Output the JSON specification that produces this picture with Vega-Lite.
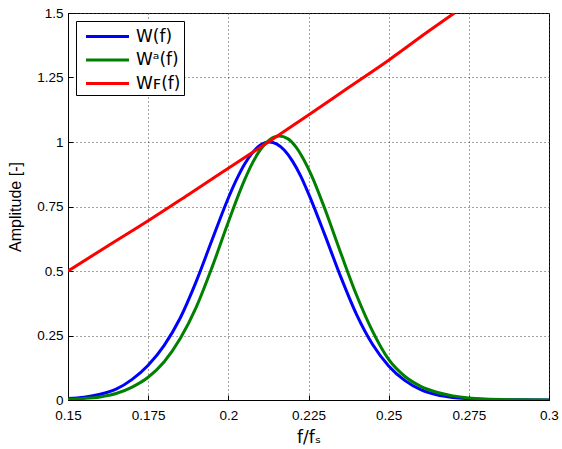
{
  "$schema": "https://vega.github.io/schema/vega-lite/v6.json",
  "width": 481,
  "height": 387,
  "autosize": "none",
  "padding": {"left": 68, "top": 13, "right": 13, "bottom": 49},
  "background": "white",
  "config": {
    "font": "Liberation Sans",
    "view": {"stroke": "black", "strokeWidth": 1}
  },
  "datasets": {
    "pts": [
      {"f": 0.15, "v": 0.006, "s": "W(f)"},
      {"f": 0.155, "v": 0.011, "s": "W(f)"},
      {"f": 0.16, "v": 0.022, "s": "W(f)"},
      {"f": 0.165, "v": 0.042, "s": "W(f)"},
      {"f": 0.17, "v": 0.08, "s": "W(f)"},
      {"f": 0.175, "v": 0.135, "s": "W(f)"},
      {"f": 0.18, "v": 0.212, "s": "W(f)"},
      {"f": 0.185, "v": 0.318, "s": "W(f)"},
      {"f": 0.19, "v": 0.46, "s": "W(f)"},
      {"f": 0.195, "v": 0.623, "s": "W(f)"},
      {"f": 0.2, "v": 0.783, "s": "W(f)"},
      {"f": 0.2025, "v": 0.853, "s": "W(f)"},
      {"f": 0.205, "v": 0.913, "s": "W(f)"},
      {"f": 0.2075, "v": 0.958, "s": "W(f)"},
      {"f": 0.21, "v": 0.988, "s": "W(f)"},
      {"f": 0.2128, "v": 1.0, "s": "W(f)"},
      {"f": 0.215, "v": 0.993, "s": "W(f)"},
      {"f": 0.2175, "v": 0.968, "s": "W(f)"},
      {"f": 0.22, "v": 0.926, "s": "W(f)"},
      {"f": 0.2225, "v": 0.87, "s": "W(f)"},
      {"f": 0.225, "v": 0.8, "s": "W(f)"},
      {"f": 0.23, "v": 0.643, "s": "W(f)"},
      {"f": 0.235, "v": 0.479, "s": "W(f)"},
      {"f": 0.24, "v": 0.331, "s": "W(f)"},
      {"f": 0.245, "v": 0.215, "s": "W(f)"},
      {"f": 0.25, "v": 0.132, "s": "W(f)"},
      {"f": 0.255, "v": 0.076, "s": "W(f)"},
      {"f": 0.26, "v": 0.04, "s": "W(f)"},
      {"f": 0.265, "v": 0.02, "s": "W(f)"},
      {"f": 0.27, "v": 0.01, "s": "W(f)"},
      {"f": 0.275, "v": 0.005, "s": "W(f)"},
      {"f": 0.28, "v": 0.002, "s": "W(f)"},
      {"f": 0.29, "v": 0.0005, "s": "W(f)"},
      {"f": 0.3, "v": 0.0, "s": "W(f)"},

      {"f": 0.15, "v": 0.003, "s": "Wᵃ(f)"},
      {"f": 0.155, "v": 0.006, "s": "Wᵃ(f)"},
      {"f": 0.16, "v": 0.012, "s": "Wᵃ(f)"},
      {"f": 0.165, "v": 0.025, "s": "Wᵃ(f)"},
      {"f": 0.17, "v": 0.05, "s": "Wᵃ(f)"},
      {"f": 0.175, "v": 0.088, "s": "Wᵃ(f)"},
      {"f": 0.18, "v": 0.148, "s": "Wᵃ(f)"},
      {"f": 0.185, "v": 0.238, "s": "Wᵃ(f)"},
      {"f": 0.19, "v": 0.36, "s": "Wᵃ(f)"},
      {"f": 0.195, "v": 0.517, "s": "Wᵃ(f)"},
      {"f": 0.2, "v": 0.69, "s": "Wᵃ(f)"},
      {"f": 0.205, "v": 0.851, "s": "Wᵃ(f)"},
      {"f": 0.2075, "v": 0.918, "s": "Wᵃ(f)"},
      {"f": 0.21, "v": 0.97, "s": "Wᵃ(f)"},
      {"f": 0.213, "v": 1.01, "s": "Wᵃ(f)"},
      {"f": 0.2158, "v": 1.023, "s": "Wᵃ(f)"},
      {"f": 0.2185, "v": 1.013, "s": "Wᵃ(f)"},
      {"f": 0.221, "v": 0.982, "s": "Wᵃ(f)"},
      {"f": 0.2235, "v": 0.932, "s": "Wᵃ(f)"},
      {"f": 0.226, "v": 0.869, "s": "Wᵃ(f)"},
      {"f": 0.23, "v": 0.744, "s": "Wᵃ(f)"},
      {"f": 0.235, "v": 0.572, "s": "Wᵃ(f)"},
      {"f": 0.24, "v": 0.406, "s": "Wᵃ(f)"},
      {"f": 0.245, "v": 0.266, "s": "Wᵃ(f)"},
      {"f": 0.25, "v": 0.157, "s": "Wᵃ(f)"},
      {"f": 0.255, "v": 0.092, "s": "Wᵃ(f)"},
      {"f": 0.26, "v": 0.053, "s": "Wᵃ(f)"},
      {"f": 0.265, "v": 0.03, "s": "Wᵃ(f)"},
      {"f": 0.27, "v": 0.016, "s": "Wᵃ(f)"},
      {"f": 0.275, "v": 0.008, "s": "Wᵃ(f)"},
      {"f": 0.28, "v": 0.004, "s": "Wᵃ(f)"},
      {"f": 0.29, "v": 0.001, "s": "Wᵃ(f)"},
      {"f": 0.3, "v": 0.0, "s": "Wᵃ(f)"},

      {"f": 0.15, "v": 0.5, "s": "Wꜰ(f)"},
      {"f": 0.1625, "v": 0.598, "s": "Wꜰ(f)"},
      {"f": 0.175, "v": 0.695, "s": "Wꜰ(f)"},
      {"f": 0.1875, "v": 0.796, "s": "Wꜰ(f)"},
      {"f": 0.2, "v": 0.898, "s": "Wꜰ(f)"},
      {"f": 0.2125, "v": 1.0, "s": "Wꜰ(f)"},
      {"f": 0.225, "v": 1.105, "s": "Wꜰ(f)"},
      {"f": 0.2375, "v": 1.211, "s": "Wꜰ(f)"},
      {"f": 0.25, "v": 1.317, "s": "Wꜰ(f)"},
      {"f": 0.2625, "v": 1.43, "s": "Wꜰ(f)"},
      {"f": 0.2705, "v": 1.5, "s": "Wꜰ(f)"}
    ]
  },
  "data": {"name": "pts"},
  "mark": {"type": "line", "strokeWidth": 3, "clip": true, "interpolate": "monotone"},
  "encoding": {
    "x": {
      "field": "f", "type": "quantitative",
      "scale": {"domain": [0.15, 0.3], "nice": false, "zero": false},
      "axis": {
        "values": [0.15, 0.175, 0.2, 0.225, 0.25, 0.275, 0.3],
        "format": ".3~f",
        "title": "f/fₛ",
        "titleFont": "DejaVu Sans",
        "titleFontSize": 17, "titleFontWeight": "normal", "titleColor": "black",
        "titlePadding": 8,
        "labelFontSize": 13.5, "labelColor": "black", "labelPadding": 13,
        "domainColor": "black", "tickColor": "black", "tickSize": -5,
        "labelFlush": false,
        "grid": true, "gridColor": "#444", "gridDash": [1, 3], "gridOpacity": 1
      }
    },
    "y": {
      "field": "v", "type": "quantitative",
      "scale": {"domain": [0, 1.5], "nice": false},
      "axis": {
        "values": [0, 0.25, 0.5, 0.75, 1, 1.25, 1.5],
        "format": ".2~f",
        "title": "Amplitude [-]",
        "titleFontSize": 16, "titleFontWeight": "normal", "titleColor": "black",
        "titlePadding": 13,
        "labelFontSize": 13.5, "labelColor": "black", "labelPadding": 10,
        "domainColor": "black", "tickColor": "black", "tickSize": -5,
        "labelFlush": false,
        "grid": true, "gridColor": "#444", "gridDash": [1, 3], "gridOpacity": 1
      }
    },
    "color": {
      "field": "s", "type": "nominal",
      "scale": {"domain": ["W(f)", "Wᵃ(f)", "Wꜰ(f)"], "range": ["#0000ff", "#008000", "#ff0000"]},
      "legend": {
        "title": null,
        "orient": "top-left",
        "offset": 8,
        "padding": 3,
        "fillColor": "white",
        "strokeColor": "black",
        "symbolType": "M-2,0L2,0",
        "symbolSize": 462,
        "symbolStrokeWidth": 3,
        "symbolOffset": 16,
        "labelOffset": 16,
        "labelFontSize": 17,
        "labelColor": "black",
        "labelFont": "DejaVu Sans",
        "labelExpr": "datum.label + '\u00a0\u00a0'",
        "rowPadding": 2.5
      }
    }
  }
}
